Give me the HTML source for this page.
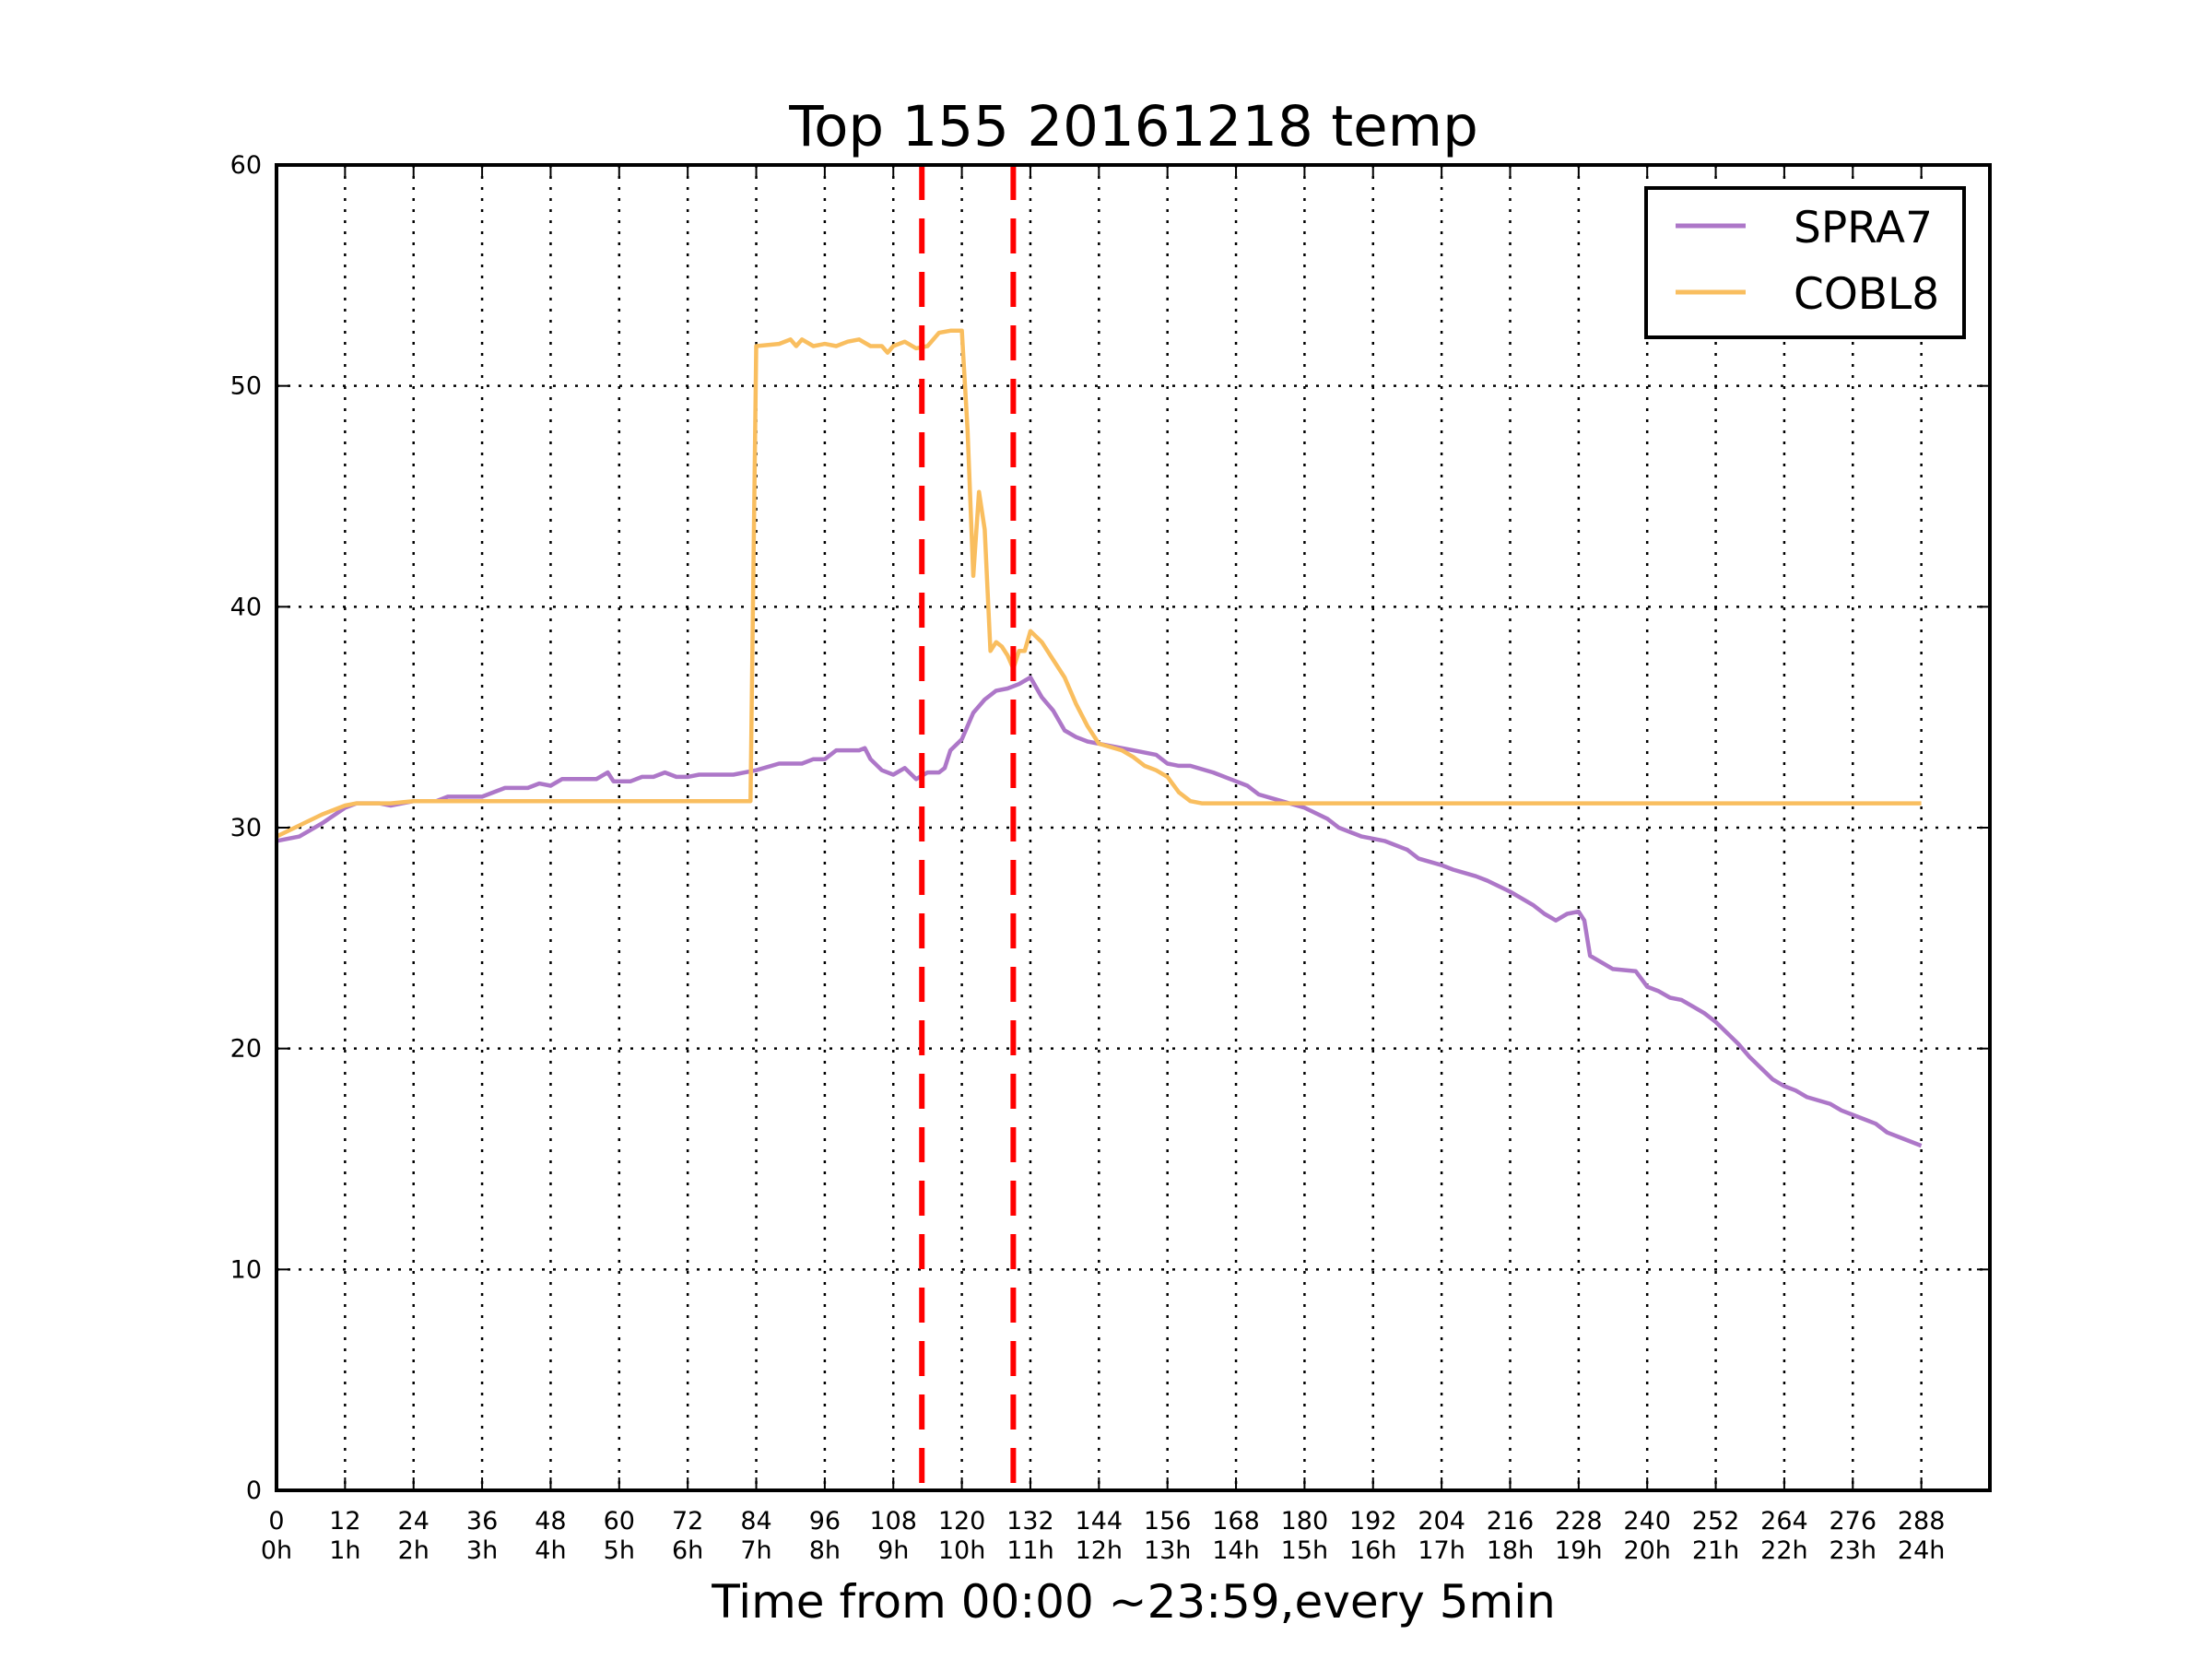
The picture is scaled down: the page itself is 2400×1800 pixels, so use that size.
<!DOCTYPE html>
<html><head><meta charset="utf-8"><style>
html,body{margin:0;padding:0;background:#fff;}
svg{display:block;font-family:"DejaVu Sans","Liberation Sans",sans-serif;}
</style></head><body>
<svg id="chart" width="2400" height="1800" viewBox="0 0 2400 1800" xmlns="http://www.w3.org/2000/svg">
<rect width="2400" height="1800" fill="#fff"/>
<text x="1230" y="158" font-size="61" text-anchor="middle">Top 155 20161218 temp</text>
<g id="grid"></g>
<g id="series"></g>
<g id="ticks"></g>
<rect x="300" y="179" width="1859" height="1438" fill="none" stroke="#000" stroke-width="4"/>
<text x="1230" y="1755" font-size="50" text-anchor="middle">Time from 00:00 ~23:59,every 5min</text>
<g>
<rect x="1786" y="204" width="345" height="162" fill="#fff" stroke="#000" stroke-width="4"/>
<line x1="1818" y1="245" x2="1894" y2="245" stroke="#ad77c8" stroke-width="5"/>
<text x="1946" y="263" font-size="47">SPRA7</text>
<line x1="1818" y1="317" x2="1894" y2="317" stroke="#f9be5f" stroke-width="5"/>
<text x="1946" y="335" font-size="47">COBL8</text>
</g>
</svg>
<script>
const xTicks=[0,12,24,36,48,60,72,84,96,108,120,132,144,156,168,180,192,204,216,228,240,252,264,276,288];
const xHourLabels=["0h","1h","2h","3h","4h","5h","6h","7h","8h","9h","10h","11h","12h","13h","14h","15h","16h","17h","18h","19h","20h","21h","22h","23h","24h"];
const yTicks=[0,10,20,30,40,50,60];
const markerLines=[113,129];
const spraX=[0,4,8,12,14,18,20,24,28,30,36,40,44,46,48,50,56,58,59,62,64,66,68,70,72,74,80,82,84,88,92,94,96,98,102,103,104,106,108,110,112,114,116,117,118,120,122,124,126,128,130,132,134,136,138,140,142,144,148,150,154,156,158,160,164,168,170,172,176,180,184,186,190,194,198,200,204,206,210,212,216,218,220,222,224,226,228,229,230,232,234,238,240,242,244,246,248,250,252,254,256,258,260,262,264,266,268,272,274,278,280,282,284,288];
const spraY=[29.4,29.6,30.2,30.9,31.1,31.1,31.0,31.2,31.2,31.4,31.4,31.8,31.8,32.0,31.9,32.2,32.2,32.5,32.1,32.1,32.3,32.3,32.5,32.3,32.3,32.4,32.4,32.5,32.6,32.9,32.9,33.1,33.1,33.5,33.5,33.6,33.1,32.6,32.4,32.7,32.2,32.5,32.5,32.7,33.5,34.0,35.2,35.8,36.2,36.3,36.5,36.8,35.9,35.3,34.4,34.1,33.9,33.8,33.6,33.5,33.3,32.9,32.8,32.8,32.5,32.1,31.9,31.5,31.2,30.9,30.4,30.0,29.6,29.4,29.0,28.6,28.3,28.1,27.8,27.6,27.1,26.8,26.5,26.1,25.8,26.1,26.2,25.8,24.2,23.9,23.6,23.5,22.8,22.6,22.3,22.2,21.9,21.6,21.2,20.7,20.2,19.6,19.1,18.6,18.3,18.1,17.8,17.5,17.2,16.8,16.6,16.2,16.0,15.6];
const coblX=[0,4,8,12,14,20,24,83,84,88,90,91,92,94,96,98,100,102,104,106,107,108,110,112,114,116,118,120,121,122,123,124,125,126,127,128,129,130,131,132,134,136,138,140,142,144,148,150,152,154,156,158,160,162,288];
const coblY=[29.6,30.1,30.6,31.0,31.1,31.1,31.2,31.2,51.8,51.9,52.1,51.8,52.1,51.8,51.9,51.8,52.0,52.1,51.8,51.8,51.5,51.8,52.0,51.7,51.8,52.4,52.5,52.5,48.0,41.4,45.2,43.5,38.0,38.4,38.2,37.8,37.2,38.0,38.0,38.9,38.4,37.6,36.8,35.6,34.6,33.8,33.5,33.2,32.8,32.6,32.3,31.6,31.2,31.1,31.1];
const L=300,R=2159,T=179,B=1617;
const sx=v=>L+v/300*(R-L);
const sy=v=>B-v/60*(B-T);
const NS="http://www.w3.org/2000/svg";
function mk(tag,attrs,parent){const e=document.createElementNS(NS,tag);for(const k in attrs)e.setAttribute(k,attrs[k]);parent.appendChild(e);return e;}
const grid=document.getElementById('grid'),ticks=document.getElementById('ticks'),series=document.getElementById('series');
xTicks.forEach((t,i)=>{
  const x=sx(t);
  if(t>0){const g=mk('line',{x1:x,y1:T,x2:x,y2:B,stroke:'#000','stroke-width':2.5,'stroke-dasharray':'3,9'},grid);
  
  }
  const tk=mk('line',{x1:x,y1:B,x2:x,y2:B-14,stroke:'#000','stroke-width':2},ticks);
  
  
  const tk2=mk('line',{x1:x,y1:T,x2:x,y2:T+14,stroke:'#000','stroke-width':2},ticks);
  
  
  const a=mk('text',{x:x,y:B+42,'font-size':27,'text-anchor':'middle'},ticks);a.textContent=t;
  
  
  const b=mk('text',{x:x,y:B+74,'font-size':27,'text-anchor':'middle'},ticks);b.textContent=xHourLabels[i];
  
  
});
yTicks.forEach(t=>{
  const y=sy(t);
  if(t>0&&t<60){const g=mk('line',{x1:L,y1:y,x2:R,y2:y,stroke:'#000','stroke-width':2.5,'stroke-dasharray':'3,9'},grid);
  
  }
  const tk=mk('line',{x1:L,y1:y,x2:L+14,y2:y,stroke:'#000','stroke-width':2},ticks);
  
  
  const tk2=mk('line',{x1:R,y1:y,x2:R-14,y2:y,stroke:'#000','stroke-width':2},ticks);
  
  
  const a=mk('text',{x:L-16,y:y+9,'font-size':27,'text-anchor':'end'},ticks);a.textContent=t;
  
  
});
function line(xs,ys,color,name){
  const d=xs.map((x,i)=>(i?'L':'M')+sx(x).toFixed(1)+','+sy(ys[i]).toFixed(1)).join(' ');
  const p=mk('path',{d:d,fill:'none',stroke:color,'stroke-width':4.5,'stroke-linejoin':'round'},series);
  
  
}
line(spraX,spraY,'#ad77c8','spra7-line');
line(coblX,coblY,'#f9be5f','cobl8-line');
markerLines.forEach(m=>{
  const l=mk('line',{x1:sx(m),y1:T,x2:sx(m),y2:B,stroke:'#ff0000','stroke-width':6,'stroke-dasharray':'38,20'},series);
  
  
});
</script>
</body></html>
